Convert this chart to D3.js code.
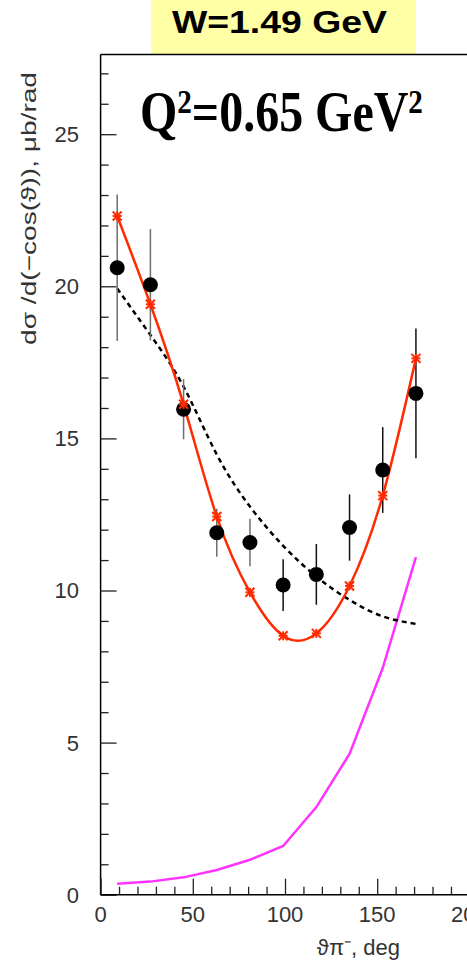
<!DOCTYPE html>
<html>
<head>
<meta charset="utf-8">
<script src="https://cdn.jsdelivr.net/npm/d3@7"></script>
<style>
  html, body { margin: 0; padding: 0; background: #fff; }
  svg { display: block; }
</style>
</head>
<body>
<svg id="chart" width="467" height="963"></svg>
<script>
// ---- data ----
const angles = [9, 27, 45, 63, 81, 99, 117, 135, 153, 171];
const dataY = [20.61, 20.05, 15.96, 11.9, 11.58, 10.18, 10.53, 12.07, 13.96, 16.48];
const dataErr = [2.41, 1.83, 0.99, 0.79, 0.78, 0.85, 1.0, 1.09, 1.41, 2.13];
const fitY = [22.31, 19.41, 16.12, 12.43, 9.94, 8.51, 8.59, 10.15, 13.12, 17.63];
const modelY = [19.93, 18.4, 16.7, 14.47, 12.76, 11.47, 10.46, 9.69, 9.15, 8.9];
const magentaY = [0.36, 0.43, 0.57, 0.81, 1.15, 1.6, 2.88, 4.63, 7.45, 11.1];
const xTickLabels = [0, 50, 100, 150, 200];
const yTickLabels = [0, 5, 10, 15, 20, 25];
const titleText = "W=1.49 GeV";
const xTitle = "ϑπ⁻, deg";
const yTitle = "dσ /d(−cos(ϑ)), μb/rad";

const svg = d3.select("#chart");
const x = d3.scaleLinear().domain([0, 200]).range([100.6, 469.4]);
const y = d3.scaleLinear().domain([0, 27.62]).range([894.7, 54.5]);

const tickFont = "'Liberation Sans', Arial, sans-serif";

// title box
svg.append("rect").attr("x", 151).attr("y", 0).attr("width", 265).attr("height", 54)
  .attr("fill", "#ffffa6");
const tt = svg.append("text").attr("x", 0).attr("y", 0)
  .attr("font-family", tickFont).attr("font-weight", "bold").attr("font-size", 31)
  .attr("fill", "#000").text(titleText);
{
  const w = tt.node().getComputedTextLength();
  tt.attr("transform", `translate(172,33) scale(${215 / w},1)`);
}

// frame lines
svg.append("line").attr("x1", x(0)).attr("x2", 467).attr("y1", y(27.62)).attr("y2", y(27.62))
  .attr("stroke", "#000").attr("stroke-width", 1.5);

// y axis
const yMinor = d3.range(0, 28, 1);
const yAxis = d3.axisRight(y).tickValues(yMinor).tickSize(8).tickFormat("");
const yg = svg.append("g").attr("transform", `translate(${x(0)},0)`).call(yAxis);
yg.select(".domain").remove();
yg.selectAll(".tick line").attr("stroke", "#222").attr("stroke-width", 1.3)
  .attr("x2", d => (d % 5 === 0 ? 16 : 8));
svg.append("g").selectAll("text").data(yTickLabels).join("text")
  .attr("x", 79).attr("y", d => y(d)).attr("dy", "0.36em")
  .attr("text-anchor", "end").attr("font-family", tickFont).attr("font-size", 22)
  .attr("fill", "#333").text(d => d);
svg.append("line").attr("x1", x(0)).attr("x2", x(0)).attr("y1", y(27.62)).attr("y2", y(0))
  .attr("stroke", "#000").attr("stroke-width", 1.5);

// x axis
const xMinor = d3.range(0, 201, 10);
const xAxis = d3.axisTop(x).tickValues(xMinor).tickSize(8).tickFormat("");
const xg = svg.append("g").attr("transform", `translate(0,${y(0)})`).call(xAxis);
xg.select(".domain").remove();
xg.selectAll(".tick line").attr("stroke", "#222").attr("stroke-width", 1.3)
  .attr("y2", d => (d % 50 === 0 ? -16 : -8));
svg.append("g").selectAll("text").data(xTickLabels).join("text")
  .attr("x", d => x(d)).attr("y", 922)
  .attr("text-anchor", "middle").attr("font-family", tickFont).attr("font-size", 22)
  .attr("fill", "#333").text(d => d);
svg.append("line").attr("x1", x(0)).attr("x2", 467).attr("y1", y(0)).attr("y2", y(0))
  .attr("stroke", "#000").attr("stroke-width", 1.5);

// axis titles
svg.append("text").attr("x", 400).attr("y", 955).attr("text-anchor", "end")
  .attr("font-family", tickFont).attr("font-size", 22).attr("fill", "#333").text(xTitle);
const yt = svg.append("text").attr("text-anchor", "end")
  .attr("font-family", tickFont).attr("font-size", 21).attr("fill", "#333").text(yTitle);
{
  const w = yt.node().getComputedTextLength();
  yt.attr("transform", `translate(36,72) rotate(-90) scale(${273 / w},1)`);
}

// Q^2 label
const q = svg.append("text").attr("font-family", "'Liberation Serif', 'Times New Roman', serif")
  .attr("font-weight", "bold").attr("font-size", 56).attr("fill", "#000");
q.append("tspan").text("Q");
q.append("tspan").attr("font-size", 34).attr("dy", -18).text("2");
q.append("tspan").attr("dy", 18).text("=0.65 GeV");
q.append("tspan").attr("font-size", 34).attr("dy", -18).text("2");
{
  const w = q.node().getComputedTextLength();
  q.attr("transform", `translate(140,131) scale(${283 / w},1)`);
}

const pts = angles.map((a, i) => ({ a, v: dataY[i], e: dataErr[i], f: fitY[i], m: modelY[i], g: magentaY[i] }));

// magenta curve
svg.append("path").datum(pts)
  .attr("d", d3.line().x(d => x(d.a)).y(d => y(d.g)))
  .attr("fill", "none").attr("stroke", "#ff33ff").attr("stroke-width", 2.5);

// dashed model curve
svg.append("path").datum(pts)
  .attr("d", d3.line().curve(d3.curveNatural).x(d => x(d.a)).y(d => y(d.m)))
  .attr("fill", "none").attr("stroke", "#000").attr("stroke-width", 2.5)
  .attr("stroke-dasharray", "5,4");

// error bars
svg.append("g").selectAll("line").data(pts).join("line")
  .attr("x1", d => x(d.a)).attr("x2", d => x(d.a))
  .attr("y1", d => y(d.v + d.e)).attr("y2", d => y(d.v - d.e))
  .attr("stroke", (d, i) => (i < 5 ? "#6e6e6e" : "#111")).attr("stroke-width", 1.5);

// fit curve
svg.append("path").datum(pts)
  .attr("d", d3.line().curve(d3.curveNatural).x(d => x(d.a)).y(d => y(d.f)))
  .attr("fill", "none").attr("stroke", "#ff2a00").attr("stroke-width", 2.5);

// data points
svg.append("g").selectAll("circle").data(pts).join("circle")
  .attr("cx", d => x(d.a)).attr("cy", d => y(d.v)).attr("r", 7.5).attr("fill", "#000");

// fit markers (asterisks)
const mg = svg.append("g").selectAll("g").data(pts).join("g")
  .attr("transform", d => `translate(${x(d.a)},${y(d.f)})`);
const s = 4.5;
[[-s, 0, s, 0], [0, -s, 0, s], [-s, -s, s, s], [-s, s, s, -s]].forEach(l => {
  mg.append("line").attr("x1", l[0]).attr("y1", l[1]).attr("x2", l[2]).attr("y2", l[3])
    .attr("stroke", "#ff2a00").attr("stroke-width", 2);
});
</script>
</body>
</html>
